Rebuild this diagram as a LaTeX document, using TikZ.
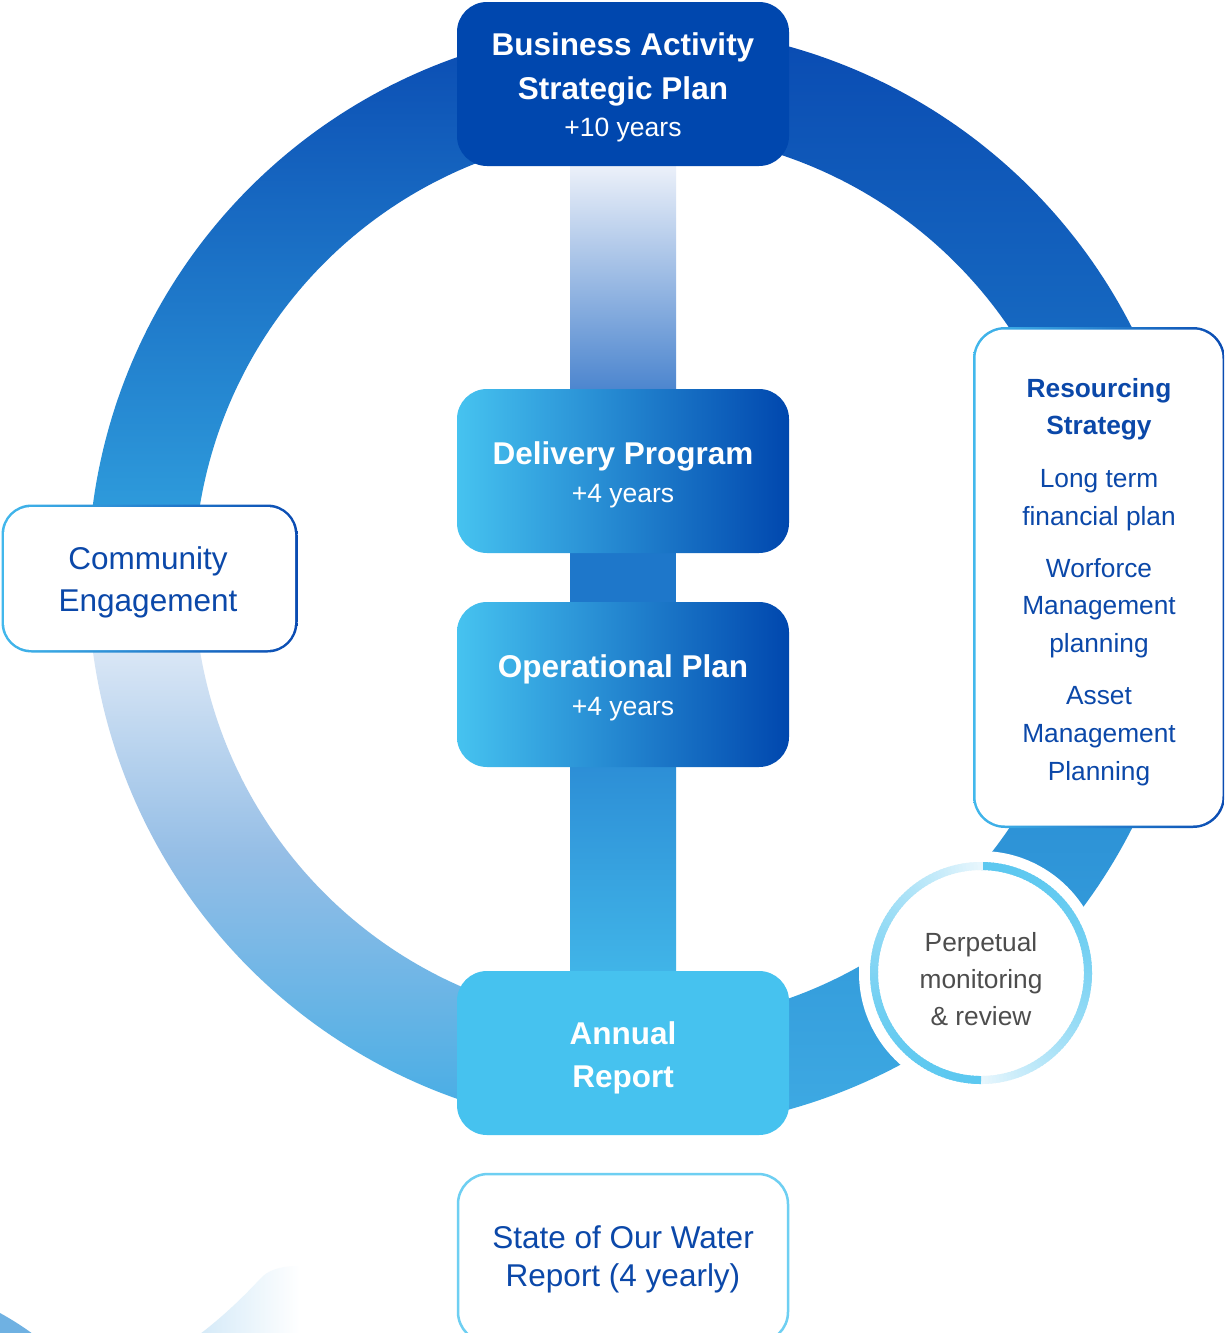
\documentclass[tikz,border=0pt]{standalone}
\usepackage{fontspec}
\setmainfont{Liberation Sans}
\usetikzlibrary{calc}
\definecolor{dkblue}{HTML}{0047AE}
\definecolor{ringtop}{HTML}{0A4BB2}
\definecolor{ringcyan}{HTML}{33A6E1}
\definecolor{ringmid}{HTML}{1F7FCC}
\definecolor{ringbot}{HTML}{3EAAE3}
\definecolor{ringpale}{HTML}{F2F5FB}
\definecolor{ringllmid}{HTML}{95BEE6}
\definecolor{ringll}{HTML}{42ACE5}
\definecolor{cyanL}{HTML}{46C3F0}
\definecolor{annualc}{HTML}{46C2EF}
\definecolor{txtblue}{HTML}{0B48A9}
\definecolor{statebord}{HTML}{6ECFF2}
\definecolor{bordL}{HTML}{42B8EC}
\definecolor{barA}{HTML}{EEF2FA}
\definecolor{barB}{HTML}{4A84CE}
\definecolor{barC}{HTML}{1E77CA}
\definecolor{barD}{HTML}{2C8ED6}
\definecolor{barE}{HTML}{41B5E8}
\definecolor{pcStrong}{HTML}{5CC8F0}
\definecolor{pcLight}{HTML}{EAF7FD}
\definecolor{graytxt}{HTML}{4D4D4D}
\definecolor{decoblue}{HTML}{6FB1E2}
\definecolor{decolight}{HTML}{D5EAF8}
\pgfdeclarelayer{bg}
\pgfsetlayers{bg,main}
\tikzset{
  box/.style={rounded corners=30pt, minimum width=332pt, minimum height=164pt, inner sep=0pt, draw=none},
  gradbox/.style={box, left color=cyanL, right color=dkblue},
  wbold/.style={text=white, inner sep=0pt, anchor=base, font=\fontsize{31.5pt}{38pt}\selectfont\bfseries},
  wsmall/.style={text=white, inner sep=0pt, anchor=base, font=\fontsize{26.5pt}{32pt}\selectfont},
  bluebig/.style={text=txtblue, inner sep=0pt, anchor=base, font=\fontsize{31.5pt}{38pt}\selectfont},
  bluesm/.style={text=txtblue, inner sep=0pt, anchor=base, font=\fontsize{26.3pt}{32pt}\selectfont},
  bluesmb/.style={bluesm, font=\fontsize{26.3pt}{32pt}\selectfont\bfseries},
  graysm/.style={text=graytxt, inner sep=0pt, anchor=base, font=\fontsize{26.3pt}{32pt}\selectfont},
}
\begin{document}
\begin{tikzpicture}[x=1pt, y=-1pt]
\useasboundingbox (0,0) rectangle (1224,1333);
\begin{pgfonlayer}{bg}
\fill[white] (0,0) rectangle (1224,1333);
\end{pgfonlayer}
\begin{scope}
\clip (0,0) rectangle (1224,1333);
% main ring, three shaded arcs
\shade[top color=ringtop, bottom color=ringcyan]
  plot[domain=180:270, samples=91, variable=\t] ({640+552*cos(\t)},{578+552*sin(\t)})
  -- plot[domain=270:180, samples=91, variable=\t] ({640+446*cos(\t)},{578+446*sin(\t)}) -- cycle;
\shade[top color=ringtop, bottom color=ringbot, middle color=ringmid]
  plot[domain=-90:85, samples=176, variable=\t] ({640+552*cos(\t)},{578+552*sin(\t)})
  -- plot[domain=85:-90, samples=176, variable=\t] ({640+446*cos(\t)},{578+446*sin(\t)}) -- cycle;
\shade[top color=ringpale, bottom color=ringll, middle color=ringllmid]
  plot[domain=85:180, samples=96, variable=\t] ({640+552*cos(\t)},{578+552*sin(\t)})
  -- plot[domain=180:85, samples=96, variable=\t] ({640+446*cos(\t)},{578+446*sin(\t)}) -- cycle;

% bottom-left decorative fragments
\fill[decoblue] (0,1313) .. controls (11,1319) and (22,1326) .. (33,1334) -- (0,1334) -- cycle;
\shade[left color=decolight, right color=white]
  (200,1334) .. controls (225,1315) and (245,1295) .. (260,1279)
  .. controls (268,1270) and (280,1266) .. (300,1266) -- (300,1334) -- cycle;

% perpetual monitoring circle
\fill[white] (981,973) circle[radius=122];
\foreach \a in {0,2,...,358}{
  \pgfmathsetmacro{\f}{100*(1-(mod(\a,180)/180)^2)}
  \colorlet{segc}{pcStrong!\f!pcLight}
  \draw[segc, line width=8pt]
    ({981+107*cos(\a-90)},{973+107*sin(\a-90)})
    -- ({981+107*cos(\a-89)},{973+107*sin(\a-89)})
    -- ({981+107*cos(\a-88)},{973+107*sin(\a-88)})
    -- ({981+107*cos(\a-87)},{973+107*sin(\a-87)});
}
\node[graysm] (pm1) at (981,951) {Perpetual};
\node[graysm] (pm2) at (981,988) {monitoring};
\node[graysm] (pm3) at (981,1025) {\& review};

% central boxes
\node[box, fill=dkblue] (strat) at (623,84) {};
\node[gradbox] (deliv) at (623,471) {};
\node[gradbox, minimum height=165pt] (oper) at (623,684.5) {};
\node[box, fill=annualc] (annual) at (623,1053) {};
\node[box, fill=white, draw=statebord, line width=2.5pt, minimum width=330pt, minimum height=168pt] (state) at (623,1258) {};

% vertical bar segments between boxes
\begin{pgfonlayer}{bg}
\shade[top color=barA, bottom color=barB] ($(strat.south)+(-53,-4)$) rectangle ($(deliv.north)+(53,4)$);
\fill[barC] ($(deliv.south)+(-53,-4)$) rectangle ($(oper.north)+(53,4)$);
\shade[top color=barD, bottom color=barE] ($(oper.south)+(-53,-4)$) rectangle ($(annual.north)+(53,4)$);
\end{pgfonlayer}

% box texts
\node[wbold] (s1) at (623,55) {Business Activity};
\node[wbold] (s2) at (623,99) {Strategic Plan};
\node[wsmall] (s3) at (623,136) {+10 years};
\node[wbold] (d1) at (623,464) {Delivery Program};
\node[wsmall] (d2) at (623,502) {+4 years};
\node[wbold] (o1) at (623,677) {Operational Plan};
\node[wsmall] (o2) at (623,715) {+4 years};
\node[wbold] (a1) at (623,1044) {Annual};
\node[wbold] (a2) at (623,1087) {Report};
\node[bluebig] (w1) at (623,1248) {State of Our Water};
\node[bluebig] (w2) at (623,1286) {Report (4 yearly)};

% community engagement box (gradient border)
\node[rounded corners=30pt, minimum width=296pt, minimum height=148pt, inner sep=0pt, left color=bordL, right color=ringtop] (commb) at (149.5,578.5) {};
\node[rounded corners=27.5pt, minimum width=291pt, minimum height=143pt, inner sep=0pt, fill=white] (commin) at (commb) {};
\node[bluebig] (c1) at (148,569) {Community};
\node[bluebig] (c2) at (148,611) {Engagement};

% resourcing strategy box (gradient border)
\node[rounded corners=32pt, minimum width=252pt, minimum height=501pt, inner sep=0pt, left color=bordL, right color=ringtop] (resb) at (1099,577.5) {};
\node[rounded corners=29.5pt, minimum width=247pt, minimum height=496pt, inner sep=0pt, fill=white] (resin) at (resb) {};
\node[bluesmb] (r1) at (1099,397) {Resourcing};
\node[bluesmb] (r2) at (1099,434) {Strategy};
\node[bluesm] (r3) at (1099,487) {Long term};
\node[bluesm] (r4) at (1099,525) {financial plan};
\node[bluesm] (r5) at (1099,577) {Worforce};
\node[bluesm] (r6) at (1099,614) {Management};
\node[bluesm] (r7) at (1099,652) {planning};
\node[bluesm] (r8) at (1099,704) {Asset};
\node[bluesm] (r9) at (1099,742) {Management};
\node[bluesm] (r10) at (1099,780) {Planning};
\end{scope}
\end{tikzpicture}
\end{document}
